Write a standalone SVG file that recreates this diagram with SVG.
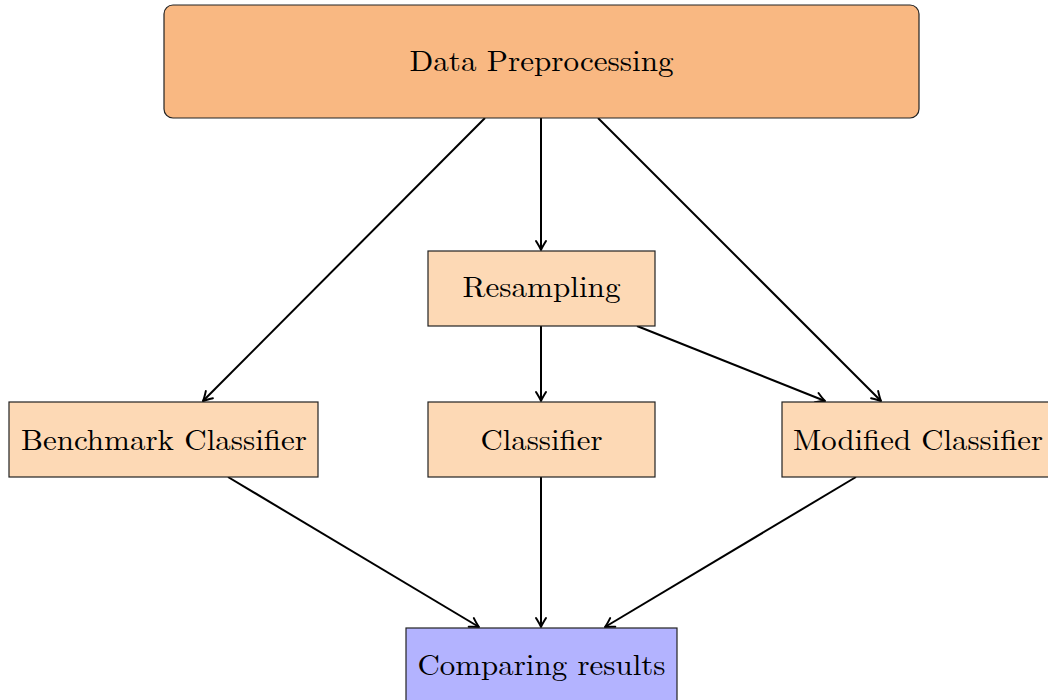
<svg xmlns="http://www.w3.org/2000/svg" width="1048" height="700" viewBox="0 0 1048 700">
<defs>
<marker id="arr" viewBox="-12 -7 14 14" refX="0" refY="0" markerWidth="14" markerHeight="14" markerUnits="userSpaceOnUse" orient="auto">
<path d="M-9,-5 Q-3,-1.2 0,0 Q-3,1.2 -9,5" fill="none" stroke="#000" stroke-width="2" stroke-linecap="round" stroke-linejoin="round"/>
</marker>
<style>
.box{fill:#FDD9B5;stroke:#222;stroke-width:1.2}
.top{fill:#F9B882;stroke:#222;stroke-width:1.2}
.res{fill:#B3B3FF;stroke:#222;stroke-width:1.2}
text{font-family:"Latin Modern Roman","Liberation Serif","DejaVu Serif",serif;font-size:29px;fill:#000;text-anchor:middle}
.c line{stroke:#000;stroke-width:2;marker-end:url(#arr)}
</style>
</defs>
<rect width="1048" height="700" fill="#fff"/>
<g class="c" id="connectors">
<line x1="485" y1="118" x2="203" y2="401"/>
<line x1="541" y1="118" x2="541" y2="250"/>
<line x1="598" y1="118" x2="881" y2="401"/>
<line x1="541" y1="326" x2="541" y2="401"/>
<line x1="637" y1="326" x2="825" y2="401"/>
<line x1="228" y1="477" x2="479" y2="627"/>
<line x1="541" y1="477" x2="541" y2="627"/>
<line x1="856" y1="477" x2="605" y2="627"/>
</g>
<g id="n-data"><rect class="top" x="164" y="5" width="755" height="113" rx="9"/><text x="541.5" y="71" textLength="264" lengthAdjust="spacingAndGlyphs">Data Preprocessing</text></g>
<g id="n-resampling"><rect class="box" x="428" y="251" width="227" height="75"/><text x="541.5" y="297" textLength="158" lengthAdjust="spacingAndGlyphs">Resampling</text></g>
<g id="n-benchmark"><rect class="box" x="9" y="402" width="309" height="75"/><text x="164" y="450" textLength="286" lengthAdjust="spacingAndGlyphs">Benchmark Classifier</text></g>
<g id="n-classifier"><rect class="box" x="428" y="402" width="227" height="75"/><text x="541.5" y="450" textLength="122" lengthAdjust="spacingAndGlyphs">Classifier</text></g>
<g id="n-modified"><rect class="box" x="782" y="402" width="272" height="75"/><text x="918" y="450" textLength="250" lengthAdjust="spacingAndGlyphs">Modified Classifier</text></g>
<g id="n-comparing"><rect class="res" x="406" y="628" width="271" height="76"/><text x="541.5" y="675" textLength="248" lengthAdjust="spacingAndGlyphs">Comparing results</text></g>
</svg>
